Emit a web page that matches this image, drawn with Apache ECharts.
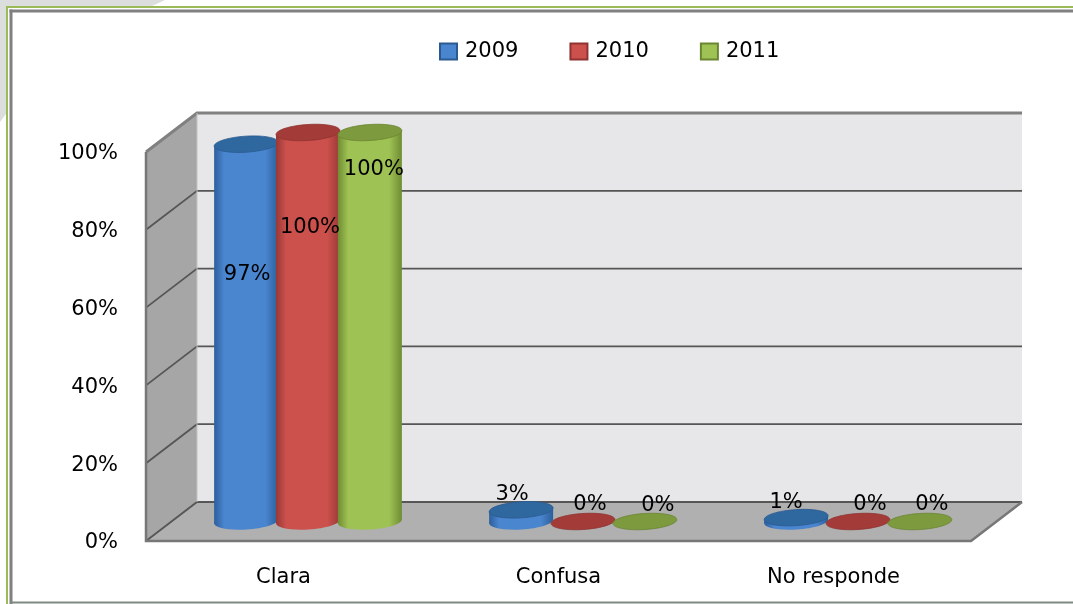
<!DOCTYPE html>
<html><head><meta charset="utf-8">
<style>html,body{margin:0;padding:0;background:#fff}#c{width:1073px;height:604px;filter:blur(0.5px)}</style>
<script src="https://cdn.jsdelivr.net/npm/echarts@6/dist/echarts.min.js"></script>
</head><body><div id="c"></div>
<script>
const categories = ['Clara', 'Confusa', 'No responde'];
const years = ['2009', '2010', '2011'];
const values2009 = [97, 3, 1];
const values2010 = [100, 0, 0];
const values2011 = [100, 0, 0];
const tickValues = [0, 20, 40, 60, 80, 100];
const seriesValues = [values2009, values2010, values2011];

const FONT = '"DejaVu Sans", "Noto Sans", sans-serif';
const FONT_SIZE = 21;
const DEPTH = [51, -39];
const TILT = 0.065;
const RX = 32, RY = 8;
const palette = [
  {base:'#4a86cf', edge:'#2c5f9c', cap:'#2f689f', line:'#2a5a90'},
  {base:'#cc514d', edge:'#983835', cap:'#a33b38', line:'#8f3330'},
  {base:'#9fc254', edge:'#6f8c33', cap:'#7d9a3e', line:'#6b8632'}
];
// label placement relative to the column top, in pixels
const labelShift = [
  [[1,130],[-9,-15],[-10,-15]],
  [[2,95],[7,-17],[12,-17]],
  [[4,37],[13,-16],[12,-17]]
];

function renderWalls(params, api) {
  const cs = params.coordSys;
  const y = v => api.coord([0, v])[1];
  const dx = DEPTH[0], dy = DEPTH[1];
  const x0 = cs.x, x1 = cs.x + cs.width;
  const y0 = y(0), y1 = y(100);
  const kids = [
    {type:'polygon', shape:{points:[[x0+dx,y1+dy],[x1+dx,y1+dy],[x1+dx,y0+dy],[x0+dx,y0+dy]]}, style:{fill:'#e7e7e9'}},
    {type:'polygon', shape:{points:[[x0,y1],[x0+dx,y1+dy],[x0+dx,y0+dy],[x0,y0]]}, style:{fill:'#a6a6a6'}},
    {type:'polygon', shape:{points:[[x0,y0],[x1,y0],[x1+dx,y0+dy],[x0+dx,y0+dy]]}, style:{fill:'#b0b0b0'}}
  ];
  tickValues.forEach(v => {
    const yy = y(v);
    const top = v === 100;
    kids.push({type:'polyline', shape:{points:[[x0,yy],[x0+dx,yy+dy],[x1+dx,yy+dy]]},
      style:{fill:'none', stroke: top ? '#808080' : '#565656', lineWidth: top ? 3 : 1.8}});
  });
  kids.push({type:'polyline', shape:{points:[[x0,y1],[x0,y0],[x1,y0],[x1+dx,y0+dy]]},
    style:{fill:'none', stroke:'#777777', lineWidth:2.5}});
  kids.push({type:'line', shape:{x1:x0+dx,y1:y1+dy,x2:x0+dx,y2:y0+dy}, style:{stroke:'#c4c4c4', lineWidth:1}});
  return {type:'group', children:kids};
}

function renderColumns(s) {
  return function (params, api) {
    const cat = api.value(0), val = api.value(1);
    const band = api.size([1, 0])[0];
    const step = band * 0.225;
    const base = api.coord([cat, 0]);
    const top = api.coord([cat, val]);
    const cx = base[0] + DEPTH[0] / 2 - 1 + (s - 1) * step;
    const yb = base[1] + DEPTH[1] / 2;
    const yt = top[1] + DEPTH[1] / 2;
    const p = palette[s];
    const dt = RX * Math.sin(TILT);
    const grad = {type:'linear', x:0, y:0, x2:1, y2:0, colorStops:[
      {offset:0, color:p.edge},{offset:0.16, color:p.base},{offset:0.8, color:p.base},{offset:1, color:p.edge}]};
    const kids = [];
    if (val > 0) {
      kids.push({type:'ellipse', x:cx, y:yb, rotation:TILT, shape:{cx:0,cy:0,rx:RX,ry:RY}, style:{fill:grad}});
      kids.push({type:'polygon', shape:{points:[[cx-RX,yt+dt],[cx+RX,yt-dt],[cx+RX,yb-dt],[cx-RX,yb+dt]]}, style:{fill:grad}});
    }
    kids.push({type:'ellipse', x:cx, y:yt, rotation:TILT, shape:{cx:0,cy:0,rx:RX,ry:RY},
      style:{fill:p.cap, stroke:p.line, lineWidth:0.8}});
    const sh = labelShift[s][cat];
    kids.push({type:'text', z2:100, x:cx + sh[0], y:yt + sh[1],
      style:{text:val + '%', fill:'#000', font:FONT_SIZE + 'px ' + FONT, align:'center', verticalAlign:'middle'}});
    return {type:'group', children:kids};
  };
}

const chart = echarts.init(document.getElementById('c'), null, {renderer:'canvas'});
chart.setOption({
  animation:false,
  backgroundColor:'#ffffff',
  textStyle:{fontFamily:FONT},
  graphic:[
    {type:'polygon', z:-10, shape:{points:[[0,0],[165,0],[150,7],[6,7],[6,114],[0,122]]}, style:{fill:'#dcdedd'}},
    {type:'line', z:-9, shape:{x1:6,y1:7,x2:1073,y2:7}, style:{stroke:'#9bbb59', lineWidth:2}},
    {type:'line', z:-9, shape:{x1:7,y1:6,x2:7,y2:604}, style:{stroke:'#9bbb59', lineWidth:2}},
    {type:'line', z:-9, shape:{x1:9.5,y1:11,x2:1073,y2:11}, style:{stroke:'#808080', lineWidth:3}},
    {type:'line', z:-9, shape:{x1:11,y1:9.5,x2:11,y2:604}, style:{stroke:'#808080', lineWidth:3}},
    {type:'line', z:-9, shape:{x1:10,y1:602.5,x2:1073,y2:602.5}, style:{stroke:'#808a84', lineWidth:2}}
  ],
  legend:{
    left:434, top:36, itemWidth:17, itemHeight:16, itemGap:51, icon:'rect',
    selectedMode:false,
    data:years,
    textStyle:{fontFamily:FONT, fontSize:FONT_SIZE, color:'#000', padding:[0,0,2,3]}
  },
  grid:{left:146, top:152, width:825, height:389, containLabel:false},
  xAxis:{type:'category', data:categories, axisLine:{show:false}, axisTick:{show:false},
    axisLabel:{margin:26, fontFamily:FONT, fontSize:FONT_SIZE, color:'#000', interval:0}},
  yAxis:{type:'value', min:0, max:100, interval:20, axisLine:{show:false}, axisTick:{show:false},
    splitLine:{show:false}, axisLabel:{margin:28, fontFamily:FONT, fontSize:FONT_SIZE, color:'#000',
      formatter:'{t|{value}%}', rich:{t:{fontFamily:FONT, fontSize:FONT_SIZE, color:'#000', padding:[4,0,0,0]}}}},
  series:[
    {type:'custom', name:'walls', silent:true, renderItem:renderWalls, data:[[0,0]], encode:{x:0,y:1}, z:1, clip:false}
  ].concat(years.map((yr, s) => ({
    type:'custom', name:yr, z:2, clip:false, renderItem:renderColumns(s),
    itemStyle:{color:palette[s].base, borderColor:palette[s].line, borderWidth:1.5},
    encode:{x:0,y:1},
    data:seriesValues[s].map((v, i) => [i, v])
  })))
});
</script></body></html>
